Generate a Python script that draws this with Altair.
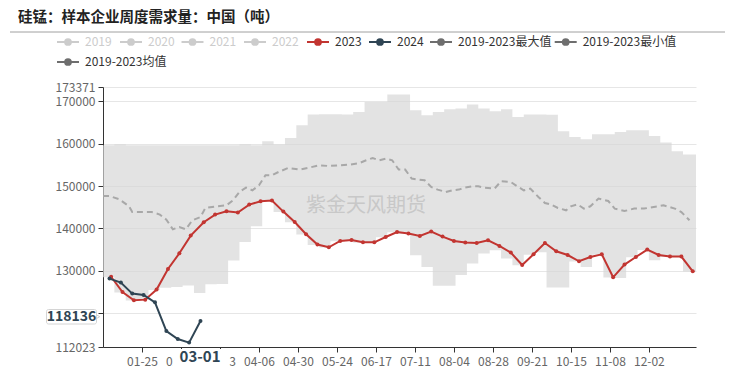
import altair as alt
import pandas as pd

# ---------------- data ----------------
dates_2023 = ["01-06", "01-13", "01-20", "01-27", "02-03", "02-10", "02-17", "02-24",
              "03-03", "03-10", "03-17", "03-24", "03-31", "04-07", "04-14", "04-21", "04-28",
              "05-05", "05-12", "05-19", "05-26", "06-02", "06-09", "06-16", "06-23", "06-30",
              "07-07", "07-14", "07-21", "07-28", "08-04", "08-11", "08-18", "08-25",
              "09-01", "09-08", "09-15", "09-22", "09-29", "10-06", "10-13", "10-20", "10-27",
              "11-03", "11-10", "11-17", "11-24", "12-01", "12-08", "12-15", "12-22", "12-29"]
vals_2023 = [128600, 125000, 123050, 123200, 125570, 130430, 134130, 138310,
             141450, 143260, 144040, 143740, 145620, 146400, 146570, 143970, 141520,
             138620, 136190, 135550, 137040, 137270, 136730, 136730, 137980, 139160,
             138780, 138210, 139250, 138070, 137040, 136660, 136560, 137200,
             135860, 134300, 131370, 133900, 136560, 134600, 133730, 132250, 133260,
             133900, 128470, 131470, 133260, 135010, 133730, 133350, 133350, 129890]

dates_2024 = ["01-05", "01-12", "01-19", "01-26", "02-02", "02-09", "02-16", "02-23", "03-01"]
vals_2024 = [128163, 127219, 124624, 124293, 122571, 115799, 113912, 113062, 118136]

band_dates = ["01-01", "01-08", "01-15", "01-22", "01-29", "02-05", "02-12", "02-19", "02-26",
              "03-04", "03-11", "03-18", "03-25", "04-01", "04-08", "04-15", "04-22", "04-29",
              "05-06", "05-13", "05-20", "05-27", "06-03", "06-10", "06-17", "06-24",
              "07-01", "07-08", "07-15", "07-22", "07-29", "08-05", "08-12", "08-19", "08-26",
              "09-02", "09-09", "09-16", "09-23", "09-30", "10-07", "10-14", "10-21", "10-28",
              "11-04", "11-11", "11-18", "11-25", "12-02", "12-09", "12-16", "12-23", "12-30", "12-31"]
band_max = [159615, 159851, 159615, 159615, 159615, 159615, 159615, 159615, 159615,
            159615, 159615, 159615, 159851, 159615, 160559, 159780, 161338, 164334,
            166859, 166930, 166930, 166859, 167473, 169832, 169832, 171578,
            171578, 167873, 166694, 167473, 168109, 168274, 169218, 168274, 167638,
            168109, 166293, 166859, 166859, 166800, 162918, 161573, 161031, 162211,
            162211, 162753, 163154, 163154, 161809, 160252, 158200, 157421, 157421, 157421]
band_min = [128500, 124900, 123000, 123150, 125500, 126000, 126170, 126560, 124760,
            126800, 126900, 132410, 136800, 140500, 146500, 143900, 141450, 138550,
            136100, 135500, 136950, 137200, 136650, 136650, 137900, 139100,
            138700, 133650, 130900, 126450, 126450, 129000, 131700, 134060, 134840,
            132880, 131300, 133800, 134400, 126040, 126040, 132200, 130900, 133800,
            128400, 128300, 133200, 134900, 132480, 133250, 133250, 129850, 129850, 129850]

mean_dates = ["01-01", "01-05", "01-11", "01-17", "01-19", "01-31", "02-05", "02-09", "02-13",
              "02-17", "02-21", "02-25", "03-01", "03-04", "03-11", "03-17", "03-21", "03-25",
              "03-29", "04-02", "04-06", "04-10", "04-14", "04-18", "04-24", "05-01", "05-07",
              "05-13", "05-19", "05-25", "06-01", "06-07", "06-11", "06-15", "06-19", "06-23",
              "06-27", "07-01", "07-05", "07-09", "07-13", "07-17", "07-21", "07-25", "07-30",
              "08-03", "08-07", "08-11", "08-15", "08-19", "08-23", "08-29", "09-02", "09-08",
              "09-12", "09-16", "09-20", "09-25", "09-29", "10-03", "10-07", "10-12", "10-15",
              "10-19", "10-23", "10-27", "11-01", "11-07", "11-11", "11-17", "11-23", "11-29",
              "12-05", "12-11", "12-18", "12-22", "12-27"]
mean_vals = [147652, 147652, 146874, 145222, 143877, 143877, 143264, 142084, 139795,
             140338, 139795, 141919, 142697, 144821, 145222, 145458, 146638, 148600,
             149634, 148997, 150177, 152537, 152537, 153315, 154259, 153882, 154353,
             154896, 154731, 154896, 155061, 155439, 156076, 156619, 156076, 156477,
             156076, 153882, 153882, 151758, 151522, 151357, 149776, 149163, 148596,
             148997, 149163, 149634, 149941, 149941, 149600, 149398, 151121, 150956,
             149941, 148997, 149398, 147416, 146001, 145623, 144821, 144278, 145222,
             145694, 144680, 145222, 147039, 146473, 144680, 144113, 144680, 144680,
             145057, 145458, 144680, 143877, 141919]

x_tick_dates = ["01-25", "02-18", "03-13", "04-06", "04-30", "05-24", "06-17", "07-11",
                "08-04", "08-28", "09-21", "10-15", "11-08", "12-02"]
y_ticks = [112023, 120000, 130000, 140000, 150000, 160000, 170000, 173371]

legend_labels = ["2019", "2020", "2021", "2022", "2023", "2024",
                 "2019-2023最大值", "2019-2023最小值", "2019-2023均值"]
legend_colors = ["#cccccc", "#cccccc", "#cccccc", "#cccccc", "#c23531", "#2f4554",
                 "#6e6e6e", "#6e6e6e", "#6e6e6e"]
legend_text_colors = ["#cccccc", "#cccccc", "#cccccc", "#cccccc", "#333333", "#333333",
                      "#333333", "#333333", "#333333"]

title_text = "硅锰：样本企业周度需求量：中国（吨）"
watermark = "紫金天风期货"
pointer_x_label = "03-01"
pointer_y_label = "118136"

# ---------------- layout constants ----------------
W, H = 593, 260
PL, PT = 103, 87
FONT = "Noto Sans CJK SC"
legend_cx = [68, 131, 192.5, 255, 318, 380, 441, 565.7, 68]
legend_cy = [42, 42, 42, 42, 42, 42, 42, 42, 62]


def doy(md):
    return int(pd.Timestamp("2024-" + md).dayofyear) - 1


df23 = pd.DataFrame({"d": [doy(s) for s in dates_2023], "v": vals_2023})
df24 = pd.DataFrame({"d": [doy(s) for s in dates_2024], "v": vals_2024})
dfband = pd.DataFrame({"d": [doy(s) for s in band_dates], "lo": band_min, "hi": band_max})
dfband.loc[dfband.index[-1], "d"] = 365
dfmean = pd.DataFrame({"d": [doy(s) for s in mean_dates], "v": mean_vals})
one = pd.DataFrame({"k": [0]})

xscale = alt.Scale(domain=[0, 365], nice=False, zero=False)
yscale = alt.Scale(domain=[112023, 173371], nice=False, zero=False)

xaxis = alt.Axis(values=[doy(s) for s in x_tick_dates],
                 labelExpr="timeFormat(datetime(2024, 0, 1 + datum.value), '%m-%d')",
                 title=None, grid=False, domainColor="#333333", tickColor="#333333",
                 tickSize=5, labelColor="#666666", labelFontSize=12, labelFont=FONT,
                 labelPadding=4, labelOverlap=False)
yaxis = alt.Axis(values=y_ticks, format="d",
                 labelExpr="datum.value == 120000 ? '' : datum.label",
                 title=None, grid=True, gridColor="#e6e6e6", domainColor="#333333",
                 tickColor="#333333", tickSize=5, labelColor="#666666", labelFontSize=12,
                 labelFont=FONT, labelPadding=3)

X = alt.X("d:Q", scale=xscale, axis=xaxis)

band = alt.Chart(dfband).mark_area(interpolate="step-after", color="#d6d6d6", opacity=0.68).encode(
    x=X, y=alt.Y("lo:Q", scale=yscale, axis=yaxis), y2="hi:Q")

mark_wm = alt.Chart(one).mark_text(text=watermark, fontSize=20, font=FONT, color="#c4c4c4",
                                   opacity=0.85).encode(
    x=alt.value(366 - PL), y=alt.value(206 - PT))

mean_line = alt.Chart(dfmean).mark_line(color="#a8a8a8", strokeWidth=2, strokeDash=[6, 4]).encode(
    x=X, y=alt.Y("v:Q", scale=yscale, axis=yaxis))

l23 = alt.Chart(df23).mark_line(color="#c23531", strokeWidth=2).encode(
    x=X, y=alt.Y("v:Q", scale=yscale, axis=yaxis))
p23 = alt.Chart(df23).mark_circle(color="#c23531", size=16, opacity=1).encode(
    x=X, y=alt.Y("v:Q", scale=yscale, axis=yaxis))
l24 = alt.Chart(df24).mark_line(color="#2f4554", strokeWidth=2).encode(
    x=X, y=alt.Y("v:Q", scale=yscale, axis=yaxis))
p24 = alt.Chart(df24).mark_circle(color="#2f4554", size=16, opacity=1).encode(
    x=X, y=alt.Y("v:Q", scale=yscale, axis=yaxis))

layers = [band, mark_wm, mean_line, l23, p23, l24, p24]

# axis pointer labels
layers.append(alt.Chart(one).mark_rect(color="white").encode(
    x=alt.value(173 - PL), x2=alt.value(229.5 - PL), y=alt.value(349 - PT), y2=alt.value(366 - PT)))
layers.append(alt.Chart(one).mark_text(text=pointer_x_label, fontSize=15, fontWeight="bold",
                                       font=FONT, color="#2f4554").encode(
    x=alt.value(200 - PL), y=alt.value(357 - PT)))
layers.append(alt.Chart(one).mark_point(shape="triangle-right", filled=True, fill="white",
                                        stroke="#cfcfcf", strokeWidth=1, size=40, opacity=1).encode(
    x=alt.value(97 - PL), y=alt.value(316.7 - PT)))
layers.append(alt.Chart(one).mark_rect(fill="white", stroke="#d4d4d4", strokeWidth=1,
                                       cornerRadius=2).encode(
    x=alt.value(46.5 - PL), x2=alt.value(96.5 - PL), y=alt.value(309.5 - PT), y2=alt.value(324 - PT)))
layers.append(alt.Chart(one).mark_text(text=pointer_y_label, fontSize=14, fontWeight="bold",
                                       font=FONT, color="#2f4554").encode(
    x=alt.value(71.5 - PL), y=alt.value(317 - PT)))

# title and separator
layers.append(alt.Chart(one).mark_text(text=title_text, fontSize=14.5, fontWeight="bold", font=FONT,
                                       color="#222222", align="left", baseline="middle").encode(
    x=alt.value(18 - PL), y=alt.value(18 - PT)))
layers.append(alt.Chart(one).mark_rule(color="#a0a0a0", strokeWidth=1).encode(
    x=alt.value(10 - PL), x2=alt.value(725 - PL), y=alt.value(32 - PT)))

# legend
for lab, col, tcol, cx, cy in zip(legend_labels, legend_colors, legend_text_colors, legend_cx, legend_cy):
    layers.append(alt.Chart(one).mark_rule(color=col, strokeWidth=2).encode(
        x=alt.value(cx - 11 - PL), x2=alt.value(cx + 11 - PL), y=alt.value(cy - PT)))
    layers.append(alt.Chart(one).mark_point(shape="circle", filled=True, color=col, size=60,
                                            opacity=1).encode(
        x=alt.value(cx - PL), y=alt.value(cy - PT)))
    layers.append(alt.Chart(one).mark_text(text=lab, fontSize=12, font=FONT, color=tcol,
                                           align="left", baseline="middle").encode(
        x=alt.value(cx + 17 - PL), y=alt.value(cy - PT)))

chart = alt.layer(*layers).properties(
    width=W, height=H,
    autosize=alt.AutoSizeParams(type="none"),
    padding={"left": PL, "top": PT, "right": 732 - PL - W, "bottom": 377 - PT - H},
    background="white",
).configure_view(stroke=None)

chart.save("out.html", embed_options={"renderer": "svg", "actions": False})
